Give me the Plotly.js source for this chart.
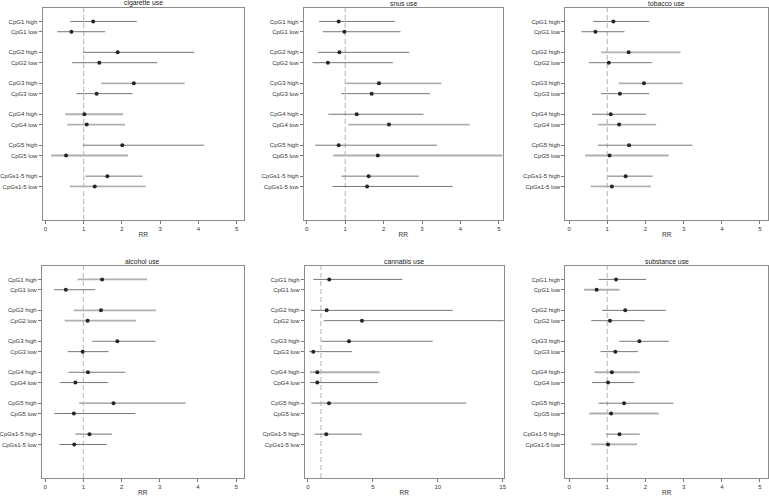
<!DOCTYPE html>
<html>
<head>
<meta charset="utf-8">
<script src="https://cdn.plot.ly/plotly-3.0.1.min.js"></script>
<style>
  html, body { margin: 0; padding: 0; background: #fff; }
  #chart { width: 769px; height: 497px; }
</style>
</head>
<body>
<div id="chart"></div>
<script>
// row labels, same order in every panel
const rowLabels = ['CpG1 high', 'CpG1 low', 'CpG2 high', 'CpG2 low', 'CpG3 high', 'CpG3 low',
                   'CpG4 high', 'CpG4 low', 'CpG5 high', 'CpG5 low', 'CpGs1-5 high', 'CpGs1-5 low'];

// cigarette use
const cigRR    = [1.25, 0.68, 1.89, 1.41, 2.31, 1.34, 1.02, 1.08, 2.01, 0.54, 1.62, 1.29];
const cigLow   = [0.65, 0.31, 0.98, 0.70, 1.46, 0.81, 0.52, 0.57, 0.98, 0.15, 1.05, 0.64];
const cigHigh  = [2.39, 1.56, 3.89, 2.92, 3.64, 2.28, 2.03, 2.08, 4.15, 2.16, 2.54, 2.62];
const cigShade = [0, 0, 0, 0, 1, 0, 1, 1, 0, 1, 0, 1];

// snus use
const snusRR    = [0.83, 0.98, 0.85, 0.55, 1.88, 1.69, 1.30, 2.14, 0.83, 1.85, 1.61, 1.57];
const snusLow   = [0.32, 0.42, 0.29, 0.15, 1.01, 0.90, 0.56, 1.08, 0.22, 0.69, 0.90, 0.67];
const snusHigh  = [2.29, 2.44, 2.67, 2.24, 3.50, 3.21, 3.04, 4.24, 3.39, 5.10, 2.92, 3.80];
const snusShade = [0, 0, 0, 0, 1, 0, 0, 1, 0, 1, 0, 0];

// tobacco use
const tobRR    = [1.16, 0.69, 1.56, 1.04, 1.96, 1.33, 1.09, 1.31, 1.57, 1.06, 1.48, 1.12];
const tobLow   = [0.63, 0.32, 0.84, 0.52, 1.30, 0.84, 0.60, 0.76, 0.76, 0.42, 1.01, 0.57];
const tobHigh  = [2.10, 1.45, 2.92, 2.17, 2.98, 2.10, 2.01, 2.28, 3.23, 2.61, 2.19, 2.14];
const tobShade = [0, 0, 1, 0, 1, 0, 0, 1, 0, 1, 0, 1];

// alcohol use
const alcRR    = [1.49, 0.54, 1.46, 1.11, 1.89, 0.98, 1.12, 0.79, 1.79, 0.75, 1.16, 0.76];
const alcLow   = [0.85, 0.23, 0.75, 0.51, 1.23, 0.59, 0.61, 0.39, 0.89, 0.24, 0.79, 0.37];
const alcHigh  = [2.67, 1.31, 2.90, 2.38, 2.89, 1.66, 2.10, 1.64, 3.68, 2.36, 1.75, 1.61];
const alcShade = [1, 0, 1, 1, 0, 0, 0, 0, 1, 0, 1, 0];

// cannabis use (no estimate for some low groups)
const canRR    = [1.64, null, 1.44, 4.16, 3.16, 0.41, 0.72, 0.72, 1.62, null, 1.41, null];
const canLow   = [0.41, null, 0.23, 1.21, 1.05, 0.10, 0.15, 0.15, 0.26, null, 0.51, null];
const canHigh  = [7.27, null, 11.15, 15.3, 9.61, 3.39, 5.52, 5.39, 12.20, null, 4.16, null];
const canShade = [0, 0, 0, 0, 0, 0, 1, 0, 1, 0, 0, 0];

// substance use
const subRR    = [1.23, 0.72, 1.47, 1.07, 1.84, 1.21, 1.12, 1.02, 1.44, 1.10, 1.32, 1.02];
const subLow   = [0.77, 0.39, 0.86, 0.58, 1.31, 0.82, 0.67, 0.60, 0.77, 0.53, 0.97, 0.58];
const subHigh  = [2.02, 1.32, 2.53, 1.98, 2.61, 1.80, 1.85, 1.71, 2.73, 2.35, 1.85, 1.78];
const subShade = [0, 1, 0, 0, 0, 0, 1, 0, 0, 1, 0, 1];

const W = 769, H = 497;
const FONT = 'Liberation Sans, Arial, sans-serif';
const DARK = '#777777', LIGHT = '#b0b0b0';

// row position on the y axis: pairs separated by a blank slot
const rowPos = rowLabels.map((_, i) => Math.floor(i / 2) * 3 + (i % 2));

const panels = [
    { title: 'cigarette use', rr: cigRR,  lo: cigLow,  hi: cigHigh,  shade: cigShade,  px: [42.5, 244],   py: [8, 220],   xr: [-0.075, 5.19], ticks: [0, 1, 2, 3, 4, 5] },
    { title: 'snus use',      rr: snusRR, lo: snusLow, hi: snusHigh, shade: snusShade, px: [303.7, 502.7], py: [8, 220],  xr: [-0.08, 5.1],   ticks: [0, 1, 2, 3, 4, 5] },
    { title: 'tobacco use',   rr: tobRR,  lo: tobLow,  hi: tobHigh,  shade: tobShade,  px: [565.3, 768],  py: [8, 220],   xr: [-0.1, 5.21],   ticks: [0, 1, 2, 3, 4, 5] },
    { title: 'alcohol use',   rr: alcRR,  lo: alcLow,  hi: alcHigh,  shade: alcShade,  px: [41.8, 243.7], py: [266, 478], xr: [-0.09, 5.2],   ticks: [0, 1, 2, 3, 4, 5] },
    { title: 'cannabis use',  rr: canRR,  lo: canLow,  hi: canHigh,  shade: canShade,  px: [304.7, 503.7], py: [266, 478], xr: [-0.25, 15.08], ticks: [0, 5, 10, 15] },
    { title: 'substance use', rr: subRR,  lo: subLow,  hi: subHigh,  shade: subShade,  px: [565.3, 768],  py: [266, 478], xr: [-0.1, 5.21],   ticks: [0, 1, 2, 3, 4, 5] }
];

const data = [];
const layout = {
    width: W, height: H,
    margin: { l: 0, r: 0, t: 0, b: 0 },
    paper_bgcolor: '#ffffff',
    plot_bgcolor: '#ffffff',
    showlegend: false,
    font: { family: FONT, size: 6, color: '#333333' },
    shapes: [],
    annotations: []
};

panels.forEach((p, k) => {
    const n = k + 1;
    const xa = 'x' + (n === 1 ? '' : n), ya = 'y' + (n === 1 ? '' : n);
    const xKey = 'xaxis' + (n === 1 ? '' : n), yKey = 'yaxis' + (n === 1 ? '' : n);

    // one trace per shade so each gets its own bar colour
    [0, 1].forEach(s => {
        const idx = rowLabels.map((_, i) => i).filter(i => p.shade[i] === s && p.rr[i] !== null);
        data.push({
            type: 'scatter', mode: 'markers',
            xaxis: xa, yaxis: ya,
            x: idx.map(i => p.rr[i]),
            y: idx.map(i => rowPos[i]),
            marker: { color: '#262626', size: 4 },
            error_x: {
                type: 'data', symmetric: false,
                array: idx.map(i => p.hi[i] - p.rr[i]),
                arrayminus: idx.map(i => p.rr[i] - p.lo[i]),
                width: 0,
                thickness: s ? 1.8 : 1,
                color: s ? LIGHT : DARK
            },
            hoverinfo: 'x+y'
        });
    });

    layout[xKey] = {
        domain: [p.px[0] / W, p.px[1] / W],
        anchor: ya,
        range: p.xr,
        tickvals: p.ticks,
        ticks: 'outside', ticklen: 3, tickwidth: 1, tickcolor: '#777',
        showgrid: false, zeroline: false,
        showline: true, mirror: true, linecolor: '#8c8c8c', linewidth: 1,
        tickfont: { family: FONT, size: 6, color: '#333' },
        title: { text: 'RR', font: { family: FONT, size: 6.5, color: '#333' }, standoff: 1 }
    };
    layout[yKey] = {
        domain: [1 - p.py[1] / H, 1 - p.py[0] / H],
        anchor: xa,
        range: [19.25, -1.3],
        tickvals: rowPos,
        ticktext: rowLabels,
        ticks: 'outside', ticklen: 3, tickwidth: 1, tickcolor: '#777',
        showgrid: false, zeroline: false,
        showline: true, mirror: true, linecolor: '#8c8c8c', linewidth: 1,
        tickfont: { family: FONT, size: 6, color: '#333' }
    };

    // reference line at RR = 1
    layout.shapes.push({
        type: 'line', xref: xa, yref: ya + ' domain',
        x0: 1, x1: 1, y0: 0, y1: 1,
        line: { color: '#c4c4c4', width: 1.3, dash: '5px,3px' },
        layer: 'below'
    });

    layout.annotations.push({
        text: p.title, showarrow: false,
        xref: xa + ' domain', yref: ya + ' domain',
        x: 0.5, y: 1, xanchor: 'center', yanchor: 'bottom',
        yshift: -1,
        font: { family: FONT, size: 6.8, color: '#222' }
    });
});

Plotly.newPlot('chart', data, layout, { displayModeBar: false, staticPlot: true });
</script>
</body>
</html>
